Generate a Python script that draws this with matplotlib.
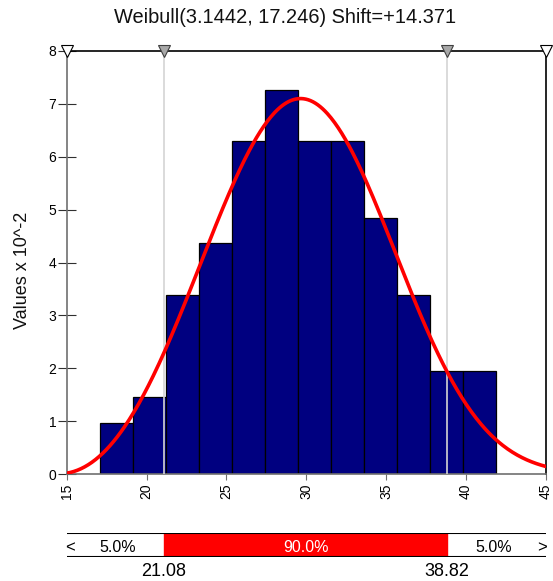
import numpy as np
import matplotlib
matplotlib.use('Agg')
import matplotlib.pyplot as plt
from matplotlib.transforms import blended_transform_factory

plt.rcParams['font.family'] = ['Liberation Sans', 'DejaVu Sans']

# Parametry dopasowania
shape = 3.1442
scale = 17.246
shift = 14.371

# Histogram (wysokości w jednostkach x 10^-2)
bin_edges = [17.09, 19.16, 21.22, 23.29, 25.36, 27.43, 29.49, 31.56, 33.63, 35.69, 37.76, 39.83, 41.89]
bar_heights = [0.96, 1.45, 3.39, 4.36, 6.30, 7.27, 6.30, 6.30, 4.85, 3.39, 1.94, 1.94]

# Percentyle
p_low, p_high = 21.08, 38.82
pct_labels = ['5.0%', '90.0%', '5.0%']

x_min, x_max = 15, 45
y_ticks = [0, 1, 2, 3, 4, 5, 6, 7, 8]
x_ticks = [15, 20, 25, 30, 35, 40, 45]

W, H = 553, 581
fig = plt.figure(figsize=(W / 100, H / 100), dpi=100)
ax = fig.add_axes([66.7 / W, 107 / H, 479.3 / W, 423 / H])

lefts = np.array(bin_edges[:-1])
widths = np.diff(bin_edges)
ax.bar(lefts, bar_heights, width=widths, align='edge', color='#000080',
       edgecolor='black', linewidth=0.9, zorder=2)

# Linie percentyli
for p in [p_low, p_high]:
    ax.axvline(p, color='#d4d4d4', linewidth=1.2, zorder=3)

# Krzywa Weibulla
xs = np.linspace(x_min, x_max, 400)
z = np.clip((xs - shift) / scale, 0, None)
pdf = shape / scale * z ** (shape - 1) * np.exp(-z ** shape)
ax.plot(xs, pdf * 100, color='red', linewidth=2.6, zorder=4)

ax.set_xlim(x_min, x_max)
ax.set_ylim(0, 8)
ax.set_xticks(x_ticks)
ax.set_yticks(y_ticks)
ax.tick_params(axis='x', direction='out', length=4, labelsize=10, labelrotation=90,
               color='#707070', pad=3)
ax.tick_params(axis='y', direction='inout', length=13, labelsize=10, color='#303030', pad=1)
ax.spines['left'].set_color('#707070')
ax.spines['bottom'].set_color('#707070')
ax.spines['top'].set_color('black')
ax.spines['right'].set_color('black')
for s in ax.spines.values():
    s.set_linewidth(1.2)

# Trójkąty u góry
ax.plot([x_min, x_max], [8, 8], 'v', markersize=9, markerfacecolor='white',
        markeredgecolor='black', markeredgewidth=0.8, clip_on=False, zorder=6)
ax.plot([p_low, p_high], [8, 8], 'v', markersize=9, markerfacecolor='#a8a8a8',
        markeredgecolor='#404040', markeredgewidth=0.8, clip_on=False, zorder=6)

fig.text(285 / W, 1 - 23 / H, 'Weibull(3.1442, 17.246) Shift=+14.371', fontsize=14.4,
         ha='center', va='baseline', color='#111111')
fig.text(14 / W, 1 - 270 / H, 'Values x 10^-2', fontsize=13, rotation=90,
         ha='left', va='center', color='#111111')

# Pasek z percentylami
bx = fig.add_axes([66.7 / W, 24 / H, 479.3 / W, 24 / H])
bx.set_xlim(x_min, x_max)
bx.set_ylim(0, 1)
bx.axvspan(p_low, p_high, color='red', zorder=1)
bx.axhline(1, color='black', linewidth=1.5)
bx.axhline(0, color='black', linewidth=1.5)
bx.text(15.2, 0.2, '<', ha='center', va='baseline', fontsize=12)
bx.text(44.78, 0.2, '>', ha='center', va='baseline', fontsize=12)
bx.text(18.19, 0.2, pct_labels[0], ha='center', va='baseline', fontsize=11.5)
bx.text((p_low + p_high) / 2, 0.2, pct_labels[1], ha='center', va='baseline', fontsize=11.5,
        color='white')
bx.text(41.7, 0.2, pct_labels[2], ha='center', va='baseline', fontsize=11.5)
tr = blended_transform_factory(bx.transData, fig.transFigure)
bx.text(p_low, 5 / H, f'{p_low:.2f}', ha='center', va='baseline', fontsize=13, transform=tr)
bx.text(p_high, 5 / H, f'{p_high:.2f}', ha='center', va='baseline', fontsize=13, transform=tr)
bx.axis('off')

fig.savefig('out.png', dpi=100)
